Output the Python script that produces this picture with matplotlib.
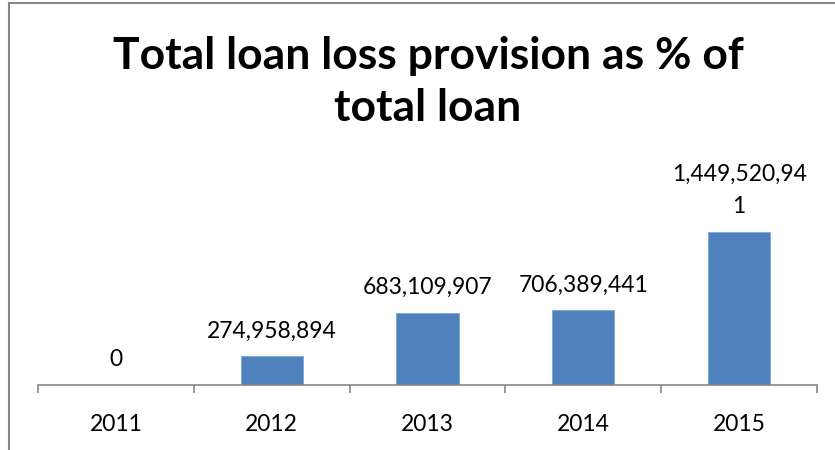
import matplotlib
matplotlib.use("Agg")
import matplotlib.pyplot as plt
from matplotlib.lines import Line2D

years = ["2011", "2012", "2013", "2014", "2015"]
provision = [0, 274958894, 683109907, 706389441, 1449520941]
# the last label wraps in the chart box
value_labels = ["0", "274,958,894", "683,109,907", "706,389,441", "1,449,520,94\n1"]

plt.rcParams["font.family"] = ["Lato", "DejaVu Sans"]

fig = plt.figure(figsize=(8.35, 4.5), dpi=100)
W, H = 835, 450

ax = fig.add_axes([38 / W, 1 - 385 / H, (817 - 38) / W, (385 - 216) / H])
x = range(len(years))
ax.bar(x, provision, width=0.4, color="#4F81BD", edgecolor="#7FA6D6", linewidth=0.6)

ax.set_xlim(-0.5, len(years) - 0.5)
ax.set_ylim(0, 1.6e9)
ax.set_yticks([])
for side in ("top", "right", "left"):
    ax.spines[side].set_visible(False)
ax.spines["bottom"].set_color("#868686")
ax.spines["bottom"].set_linewidth(1.2)

ax.set_xticks(list(x))
ax.set_xticklabels(years, fontsize=16.5)
ax.tick_params(axis="x", which="major", length=0, pad=21)
ax.set_xticks([i - 0.5 for i in range(len(years) + 1)], minor=True)
ax.tick_params(axis="x", which="minor", length=6, width=1.2, color="#868686")

for xi, v, lab in zip(x, provision, value_labels):
    ax.annotate(lab, (xi, v), xytext=(0, 10.5), textcoords="offset points",
                ha="center", va="bottom", fontsize=16.5, linespacing=1.7,
                multialignment="center")

fig.text(428 / W, 1 - 82 / H, "Total loan loss provision as % of\ntotal loan",
         ha="center", va="center", fontsize=32, fontweight="bold",
         linespacing=1.38)

# chart border, only top and left edges show
fig.add_artist(Line2D([9 / W, 9 / W], [0, 1 - 3 / H], transform=fig.transFigure,
                      color="#868686", linewidth=1.5))
fig.add_artist(Line2D([9 / W, 1], [1 - 3 / H, 1 - 3 / H], transform=fig.transFigure,
                      color="#868686", linewidth=1.5))

fig.savefig("out.png", dpi=100)
